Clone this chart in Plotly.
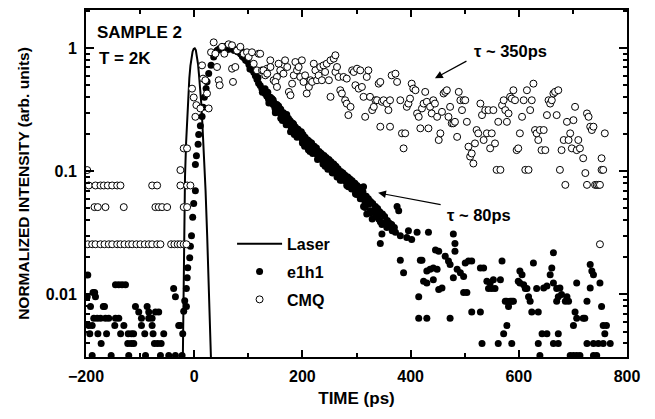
import plotly.graph_objects as go

# ---------------- Laser pulse ----------------
laser_t = [-21, -20, -18.5, -17, -15, -13, -11, -9, -7, -5, -3, -1, 1, 3, 5, 7, 9, 11, 13, 15, 17, 19, 21, 24, 27, 31]
laser_y = [0.003, 0.01, 0.04, 0.09, 0.17, 0.28, 0.42, 0.57, 0.72, 0.85, 0.94, 0.99, 1.0, 0.97, 0.88, 0.75, 0.6, 0.48,
           0.36, 0.25, 0.17, 0.11, 0.07, 0.03, 0.012, 0.003]

# ---------------- e1h1 (filled) ----------------
e1_bg_t = [-188.6, -153.5, -121, -90, -62.4, -47, -34.7, -22.4,
           -172, -122.8, -116.5, -111.7, -73.5, -67.4, -61.1,
           -193, -178, -162, -136, -122, -116, -112, -91.4, -76, -56.3, -21.2,
           -195, -188.6, -146.8, -130, -97.5, -77.8, -28.6, -25.5,
           -185.6, -179.3, -173.2, -164, -158, -145.5, -139.4, -97.5, -84, -77.8,
           -102.5, -84, -71.6, -65.6,
           -191.7, -168, -165.8, -108.6, -87, -14.4,
           -197.8, -182.5, -34.7, -187, -184, -38,
           -145.5, -139.4, -133.3, -127, -196.7]
e1_bg_y = [0.0032] * 8 + [0.004] * 7 + [0.0048] * 11 + [0.0056] * 8 + [0.0064] * 10 + [0.0072] * 4 + \
          [0.008] * 6 + [0.0096, 0.0096, 0.0096, 0.0104, 0.0104, 0.0112] + [0.012] * 4 + [0.0144]

e1_rise_t = [-19.4, -17.5, -14.5, -13, -12, -8.3, -7, -5, -2.8, -0.9, 2.2, 2.2, 4.1, 7.2, 8.3, 11.4, 14.6, 16.4,
             18.8, 22, 23.8, 26.8, 31.2, 36, 39, 42.3]
e1_rise_y = [0.0073, 0.0089, 0.0112, 0.0137, 0.0165, 0.0199, 0.0247, 0.03, 0.0425, 0.055, 0.0697, 0.114, 0.134,
             0.166, 0.2, 0.235, 0.279, 0.332, 0.4, 0.473, 0.535, 0.625, 0.73, 0.85, 0.92, 0.96]

e1_band_t = [44, 47, 50, 53, 56, 59, 62, 65, 68, 71, 74, 77, 80, 83, 86, 89, 92, 95, 98, 101, 104, 107, 110, 113,
             116, 119, 122, 125, 128, 131, 134, 137, 140, 143, 146, 149, 152, 155, 158, 161, 164, 167, 170, 173,
             176, 179, 182, 185, 188, 191, 194, 197, 200, 203, 206, 209, 212, 215, 218, 221, 224, 227, 230, 233,
             236, 239, 242, 245, 248, 251, 254, 257, 260, 263, 266, 269, 272, 275, 278, 281, 284, 287, 290, 293,
             296, 299, 302, 305, 308, 311,
             88, 96, 103, 112, 118, 126, 133, 138, 146, 150, 157, 163, 168, 174, 178, 184, 190, 195, 199, 204,
             208, 211, 216, 219, 225, 229, 234, 238, 243, 247, 252, 256, 261, 264, 268, 273, 277, 282, 286, 291,
             294, 298, 303, 307, 310, 313, 315]
e1_band_y = [0.97, 1.0, 0.99, 1.03, 1.0, 1.04, 0.98, 1.02, 0.99, 1.01, 0.96, 0.98, 0.94, 0.93, 0.90, 0.86, 0.84,
             0.80, 0.79, 0.74, 0.72, 0.67, 0.64, 0.60, 0.56, 0.52, 0.50, 0.47, 0.45, 0.43, 0.41, 0.39, 0.38, 0.36,
             0.35, 0.33, 0.33, 0.31, 0.30, 0.29, 0.28, 0.27, 0.26, 0.25, 0.24, 0.23, 0.22, 0.215, 0.21, 0.20, 0.195,
             0.19, 0.18, 0.175, 0.17, 0.165, 0.16, 0.155, 0.15, 0.148, 0.142, 0.138, 0.135, 0.13, 0.125, 0.122,
             0.12, 0.115, 0.11, 0.108, 0.105, 0.102, 0.10, 0.097, 0.095, 0.092, 0.09, 0.087, 0.085, 0.083, 0.08,
             0.078, 0.077, 0.074, 0.072, 0.07, 0.068, 0.066, 0.064, 0.062,
             0.95, 0.85, 0.68, 0.66, 0.58, 0.44, 0.44, 0.36, 0.38, 0.31, 0.33, 0.26, 0.29, 0.27, 0.21, 0.24, 0.19,
             0.21, 0.2, 0.16, 0.18, 0.15, 0.165, 0.14, 0.15, 0.128, 0.14, 0.115, 0.128, 0.104, 0.115, 0.097, 0.105,
             0.09, 0.099, 0.085, 0.092, 0.077, 0.085, 0.072, 0.08, 0.066, 0.073, 0.06, 0.07, 0.075, 0.058]

# upper and lower edges of the thick decay band
e1_edge_t = [131, 136, 141, 144, 148, 153, 156, 160, 165, 169, 171, 177, 180, 183, 187, 192, 198, 201, 205, 210,
             213, 217, 222, 226, 231, 235, 240, 244, 249, 253, 258, 262, 266, 271, 275, 279, 284, 288, 292, 297,
             301, 306, 309, 312, 318, 322, 326, 330, 335, 339, 343, 348, 352, 357, 361, 365, 370,
             150, 160, 170, 185, 200, 214, 228, 242, 255, 270, 285, 300, 316, 326]
e1_edge_y = [0.47, 0.44, 0.40, 0.39, 0.36, 0.35, 0.34, 0.32, 0.30, 0.28, 0.29, 0.26, 0.25, 0.245, 0.23, 0.22, 0.21,
             0.20, 0.19, 0.18, 0.175, 0.17, 0.16, 0.155, 0.145, 0.14, 0.135, 0.13, 0.125, 0.12, 0.115, 0.11, 0.105,
             0.10, 0.097, 0.093, 0.09, 0.087, 0.084, 0.08, 0.077, 0.074, 0.072, 0.068, 0.063, 0.06, 0.057, 0.055,
             0.052, 0.05, 0.047, 0.045, 0.043, 0.04, 0.038, 0.037, 0.035,
             0.30, 0.27, 0.24, 0.20, 0.17, 0.145, 0.125, 0.11, 0.098, 0.085, 0.075, 0.065, 0.054, 0.048]

e1_tail_t = [313, 316, 322, 319, 325, 332, 335, 338, 341, 329, 344, 347, 350, 356, 362, 366, 372, 375, 378, 381,
             347, 344, 381, 387, 396, 412, 393, 402, 433, 415, 418, 421, 430, 436, 442, 449, 446, 452, 424, 430,
             442, 452, 458, 415, 430, 473, 464, 470, 473, 479, 482, 482, 479, 486, 492, 498, 501, 507, 513, 498,
             504, 513, 529, 529, 535, 541, 547, 553, 544, 550, 556, 566, 569, 575, 578, 584, 590, 581, 587, 578,
             572, 562, 587, 532, 602, 606, 599, 609, 612, 602, 615, 618, 621, 627, 624, 633, 636, 643, 652, 639,
             636, 664, 673, 673, 664, 661, 658, 652, 646, 664, 670, 676, 679, 689, 692, 686, 673, 670, 707, 704,
             707, 701, 732, 735, 738, 732, 750, 753, 756, 759, 762, 722, 719, 726, 695, 701, 707, 713, 738, 744,
             726, 738, 747, 756, 769]
e1_tail_y = [0.052, 0.051, 0.054, 0.045, 0.046, 0.048, 0.043, 0.045, 0.041, 0.041, 0.039, 0.037, 0.038, 0.035,
             0.036, 0.033, 0.032, 0.052, 0.048, 0.030, 0.031, 0.026, 0.019, 0.015, 0.033, 0.032, 0.029, 0.028,
             0.032, 0.0096, 0.019, 0.019, 0.0155, 0.016, 0.0164, 0.016, 0.023, 0.0225, 0.0128, 0.0124, 0.0132,
             0.011, 0.0113, 0.0064, 0.0064, 0.0064, 0.0205, 0.0187, 0.0175, 0.031, 0.026, 0.0225, 0.0137, 0.016,
             0.015, 0.014, 0.018, 0.0187, 0.0187, 0.0104, 0.0104, 0.0072, 0.0072, 0.0164, 0.0164, 0.0128, 0.0124,
             0.0132, 0.0112, 0.0112, 0.0112, 0.0132, 0.0187, 0.0088, 0.0088, 0.0088, 0.0088, 0.008, 0.0088,
             0.0056, 0.0048, 0.004, 0.004, 0.004, 0.0155, 0.0145, 0.0128, 0.012, 0.0112, 0.0124, 0.0112, 0.0096,
             0.0088, 0.018, 0.0072, 0.0112, 0.0072, 0.0048, 0.0048, 0.0032, 0.004, 0.004, 0.004, 0.0048, 0.0218,
             0.0164, 0.0145, 0.0117, 0.0113, 0.0124, 0.0112, 0.0113, 0.0100, 0.0096, 0.0088, 0.0088, 0.0096,
             0.0088, 0.0124, 0.0072, 0.0064, 0.0056, 0.0175, 0.0155, 0.0145, 0.0113, 0.0124, 0.008, 0.0056,
             0.0048, 0.0056, 0.0064, 0.0064, 0.0088, 0.0032, 0.0032, 0.0032, 0.0032, 0.0032, 0.0032, 0.004, 0.004,
             0.004, 0.004, 0.004]

e1h1_t = e1_bg_t + e1_rise_t + e1_band_t + e1_edge_t + e1_tail_t
e1h1_y = e1_bg_y + e1_rise_y + e1_band_y + e1_edge_y + e1_tail_y

# ---------------- CMQ (open) ----------------
cmq_bg_t = [-194.8, -182.5, -173.2, -167.1, -159.7, -151.6, -142.4, -136.3, -77.7, -68.5, -25.5, -13.1, -7,
            -184.3, -178.2, -164, -130.2, -71.7, -65.6, -59.3, -50, -19.4, -13.1,
            -196.7, -188.6, -182.5, -173.2, -165.8, -157.9, -151.6, -142.4, -136.3, -128.9, -121, -114.7, -106.7,
            -99.4, -91.4, -84, -77.7, -68.5, -62.4, -42.7, -36.6, -30.5, -25.5, -19.4, -14.4,
            -197.8, -25.5, -19.4, -13.2]
cmq_bg_y = [0.0769] * 13 + [0.0513] * 10 + [0.0256] * 25 + [0.1026, 0.1026, 0.154, 0.154]

cmq_rise_t = [-4, -0.9, 4, 2.2, 11.4, 16.3, 14.5, 20.6, 23.7, 26.8, 31.1, 36, 39.1, 42.2, 45.3, 47.1, 51.4, 55.7,
              63.7, 69.9, 69.9, 71.7, 76, 79.1, 85.3, 91.4, 97.6, 100.7, 106.8, 110, 116, 119.1, 125.3, 131.5,
              134.5, 140.7, 146.8, 153]
cmq_rise_y = [0.471, 0.399, 0.346, 0.278, 0.325, 0.568, 0.728, 0.551, 0.43, 0.325, 0.93, 1.12, 0.905, 0.706,
              0.551, 0.502, 1.03, 0.905, 1.08, 1.06, 0.684, 0.534, 0.706, 0.96, 1.03, 0.905, 0.93, 0.85, 0.93,
              0.75, 0.663, 0.905, 0.663, 0.604, 0.684, 0.8, 0.551, 0.586]

cmq_mid_t = [122, 128, 135, 141, 150, 153, 156, 159, 165, 168, 172, 175, 178, 181, 184, 187, 190, 193, 196, 199,
             202, 205, 208, 212, 215, 218, 221, 224, 227, 230]
cmq_mid_y = [0.905, 0.663, 0.623, 0.706, 0.534, 0.486, 0.751, 0.663, 0.623, 0.800, 0.706, 0.443, 0.416, 0.517,
             0.604, 0.775, 0.663, 0.706, 0.586, 0.800, 0.534, 0.604, 0.430, 0.486, 0.551, 0.534, 0.751, 0.663,
             0.551, 0.604]

cmq_tail_t = [233, 239, 245, 252, 258, 261, 242, 236, 249, 261, 264, 267, 252, 270, 273, 279, 282, 285, 289, 276,
              282, 292, 295, 298, 301, 304, 307, 310, 313, 316, 319, 322, 325, 329, 332, 335, 338, 341, 344, 347,
              350, 356, 359, 362, 344, 362, 365, 372, 375, 381, 384, 387, 390, 393, 396, 399, 402, 405, 409, 412,
              415, 418, 421, 424, 427, 430, 433, 436, 439, 442, 445, 449, 452, 455, 458, 461, 464, 467, 470, 473,
              476, 479, 482, 486, 489, 492, 495, 498, 501, 504, 507, 510, 513, 516, 519, 522, 525, 529, 532, 535,
              538, 541, 544, 547, 550, 553, 556, 559, 562, 566, 569, 572, 575, 578, 581, 584, 587, 590, 593, 596,
              599, 602, 606, 609, 615, 612, 618, 621, 627, 624, 630, 633, 636, 639, 642, 646, 649, 652, 655, 658,
              661, 664, 667, 670, 673, 676, 679, 683, 686, 689, 692, 695, 698, 701, 704, 707, 710, 713, 719, 723,
              726, 729, 732, 735, 738, 741, 744, 747, 750, 753, 756, 759, 753, 726, 750]
cmq_tail_y = [0.706, 0.728, 0.751, 0.800, 0.825, 0.879, 0.643, 0.551, 0.551, 0.643, 0.706, 0.586, 0.404, 0.457,
              0.430, 0.379, 0.356, 0.287, 0.335, 0.586, 0.568, 0.663, 0.643, 0.502, 0.684, 0.471, 0.663, 0.486,
              0.404, 0.278, 0.586, 0.663, 0.404, 0.315, 0.335, 0.379, 0.379, 0.517, 0.534, 0.368, 0.379, 0.356,
              0.315, 0.379, 0.231, 0.231, 0.604, 0.623, 0.534, 0.379, 0.204, 0.154, 0.204, 0.335, 0.356, 0.391,
              0.517, 0.471, 0.457, 0.296, 0.278, 0.224, 0.325, 0.356, 0.443, 0.368, 0.224, 0.335, 0.296, 0.379,
              0.356, 0.278, 0.180, 0.204, 0.305, 0.430, 0.443, 0.457, 0.278, 0.335, 0.246, 0.246, 0.253, 0.191,
              0.443, 0.379, 0.315, 0.379, 0.379, 0.253, 0.159, 0.132, 0.140, 0.116, 0.169, 0.217, 0.204, 0.356,
              0.287, 0.180, 0.315, 0.204, 0.315, 0.154, 0.204, 0.315, 0.169, 0.103, 0.253, 0.103, 0.345, 0.379,
              0.315, 0.253, 0.296, 0.404, 0.391, 0.457, 0.379, 0.149, 0.154, 0.204, 0.278, 0.379, 0.457, 0.103,
              0.103, 0.315, 0.517, 0.379, 0.217, 0.204, 0.180, 0.217, 0.149, 0.217, 0.149, 0.287, 0.379, 0.356,
              0.379, 0.430, 0.443, 0.287, 0.457, 0.103, 0.149, 0.180, 0.0778, 0.253, 0.180, 0.204, 0.154, 0.261,
              0.335, 0.149, 0.180, 0.154, 0.128, 0.097, 0.296, 0.278, 0.231, 0.217, 0.231, 0.0778, 0.0778, 0.0778,
              0.0778, 0.103, 0.103, 0.204, 0.128, 0.0778, 0.0256]

cmq_t = cmq_bg_t + cmq_rise_t + cmq_mid_t + cmq_tail_t
cmq_y = cmq_bg_y + cmq_rise_y + cmq_mid_y + cmq_tail_y

x_ticks = [-200, 0, 200, 400, 600, 800]
y_ticks = [0.01, 0.1, 1]
y_ticktext = ["0.01", "0.1", "1"]
y_minor = [m * d for d in (0.001, 0.01, 0.1, 1) for m in range(2, 10)]

FONT = "Liberation Sans, Arial, sans-serif"


def bold(size):
    return dict(family=FONT, size=size, color="black", weight="bold")


fig = go.Figure()
fig.add_trace(go.Scatter(x=laser_t, y=laser_y, mode="lines", name="Laser",
                         line=dict(color="black", width=2), legendgroup="a"))
fig.add_trace(go.Scatter(x=e1h1_t, y=e1h1_y, mode="markers", name="e1h1",
                         marker=dict(color="black", size=7, line=dict(width=0)), legendgroup="b"))
fig.add_trace(go.Scatter(x=cmq_t, y=cmq_y, mode="markers", name="CMQ",
                         marker=dict(color="white", size=7, line=dict(color="black", width=1)),
                         legendgroup="c"))

axis_common = dict(showline=True, linecolor="black", linewidth=2, mirror="allticks", ticks="inside",
                   tickcolor="black", tickwidth=1.5, showgrid=False, zeroline=False, automargin=False,
                   tickfont=bold(16))

fig.update_xaxes(range=[-200, 800], tickvals=x_ticks, ticklen=7, ticklabelstandoff=4,
                 minor=dict(dtick=100, ticks="inside", ticklen=4, tickcolor="black", tickwidth=1.5),
                 title=dict(text="TIME (ps)", font=bold(17), standoff=8),
                 **axis_common)
fig.update_yaxes(type="log", range=[-2.508, 0.312], tickvals=y_ticks, ticktext=y_ticktext, ticklen=8,
                 ticklabelstandoff=4,
                 minor=dict(tickvals=y_minor, ticks="inside", ticklen=4, tickcolor="black", tickwidth=1.5),
                 title=dict(text="NORMALIZED INTENSITY (arb. units)", font=bold(15.5), standoff=12),
                 **axis_common)

fig.add_annotation(xref="paper", yref="paper", x=0.0175, y=0.935, xanchor="left", yanchor="middle",
                   text="SAMPLE 2", showarrow=False, font=bold(17))
fig.add_annotation(xref="paper", yref="paper", x=0.021, y=0.861, xanchor="left", yanchor="middle",
                   text="T = 2K", showarrow=False, font=bold(17))
fig.add_annotation(xref="paper", yref="paper", x=0.714, y=0.881, xanchor="left", yanchor="middle",
                   text="τ ~ 350ps", showarrow=False, font=bold(16.5))
fig.add_annotation(xref="paper", yref="paper", x=0.664, y=0.409, xanchor="left", yanchor="middle",
                   text="τ ~ 80ps", showarrow=False, font=bold(16.5))
# arrows (tips in data coords; y in log10 for log axis)
fig.add_annotation(x=445, y=-0.243, ax=33, ay=-18, text="", showarrow=True, arrowhead=2, arrowsize=1.3,
                   arrowwidth=1.2, arrowcolor="black")
fig.add_annotation(x=340, y=-1.174, ax=64, ay=12, text="", showarrow=True, arrowhead=2, arrowsize=1.3,
                   arrowwidth=1.2, arrowcolor="black")

# page body has an 8px margin, compensate so the plot frame lands where the reference has it
fig.update_layout(
    width=655, height=419,
    margin=dict(l=77.5, r=36, t=1.5, b=69.5),
    paper_bgcolor="white", plot_bgcolor="white",
    showlegend=True,
    legend=dict(x=0.27, y=0.375, xanchor="left", yanchor="top", bgcolor="rgba(0,0,0,0)",
                traceorder="grouped", tracegroupgap=4, itemwidth=45, font=bold(16)),
)

fig.write_html("out.html")
